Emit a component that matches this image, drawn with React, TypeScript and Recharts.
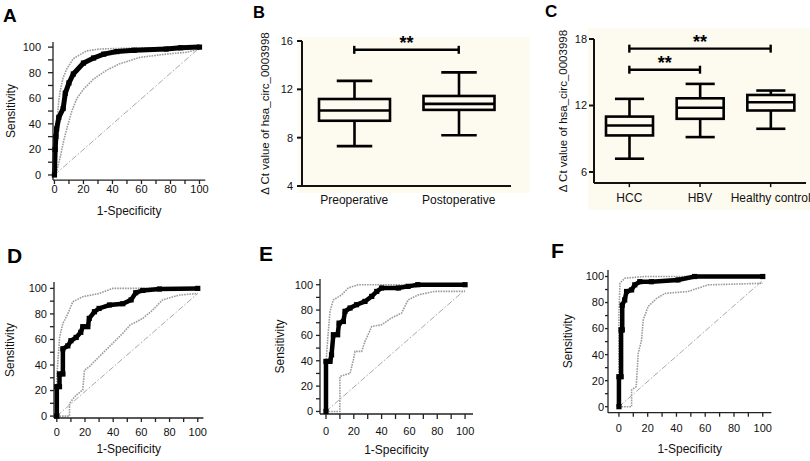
import React from "react"
import { LineChart, Line, XAxis, YAxis, ComposedChart, Bar, ReferenceLine } from "recharts"

type Pt = { x: number; y: number }
type Sig = { from: string; to: string; y: number }

const ROC_TICKS = [0, 10, 20, 30, 40, 50, 60, 70, 80, 90, 100]

// A: ROC, all samples
const A_MAIN: Pt[] = [
  { x: 0, y: 0 }, { x: 0.5, y: 20 }, { x: 1, y: 30 }, { x: 1.5, y: 36 }, { x: 3, y: 45 },
  { x: 6, y: 52 }, { x: 7.5, y: 64 }, { x: 10, y: 72 }, { x: 13, y: 79 }, { x: 20, y: 87.5 },
  { x: 27, y: 91.5 }, { x: 34, y: 94.5 }, { x: 43, y: 96.5 }, { x: 55, y: 97.5 }, { x: 77, y: 98.5 },
  { x: 87, y: 99.5 }, { x: 100, y: 100 },
]
const A_UPPER: Pt[] = [
  { x: 0, y: 0 }, { x: 0.5, y: 20 }, { x: 1.2, y: 35 }, { x: 2, y: 45 }, { x: 3, y: 58 },
  { x: 4, y: 66 }, { x: 6, y: 76 }, { x: 8.5, y: 83 }, { x: 13, y: 91 }, { x: 22, y: 97 },
  { x: 31, y: 98.5 }, { x: 55, y: 99.3 }, { x: 100, y: 100 },
]
const A_LOWER: Pt[] = [
  { x: 0, y: 0 }, { x: 1.6, y: 3 }, { x: 4, y: 14 }, { x: 6.4, y: 27 }, { x: 8.7, y: 37 },
  { x: 12, y: 50 }, { x: 15.5, y: 60 }, { x: 20, y: 67 }, { x: 27, y: 75 }, { x: 36, y: 82 },
  { x: 45, y: 87 }, { x: 59, y: 92 }, { x: 77, y: 94.5 }, { x: 91, y: 96 }, { x: 100, y: 98.5 },
]
const A_DIAG: Pt[] = [{ x: 0, y: 0 }, { x: 98, y: 97.5 }]

// D
const D_MAIN: Pt[] = [
  { x: 0, y: 0 }, { x: 0, y: 23 }, { x: 1.9, y: 23 }, { x: 1.9, y: 33 }, { x: 4.3, y: 33 },
  { x: 4.3, y: 52.7 }, { x: 7.8, y: 55 }, { x: 10, y: 59 }, { x: 13.7, y: 61.6 }, { x: 17, y: 65.6 },
  { x: 18.4, y: 70 }, { x: 22, y: 70 }, { x: 23, y: 76.5 }, { x: 26.7, y: 81.7 }, { x: 30, y: 84.3 },
  { x: 37.4, y: 87 }, { x: 46.8, y: 88 }, { x: 52.7, y: 91 }, { x: 56, y: 96.6 }, { x: 61, y: 98.4 },
  { x: 72.8, y: 99.5 }, { x: 100, y: 100 },
]
const D_UPPER: Pt[] = [
  { x: 0, y: 0 }, { x: 0, y: 31 }, { x: 2, y: 62 }, { x: 4.3, y: 72.6 }, { x: 7.8, y: 80 },
  { x: 11.3, y: 89.5 }, { x: 18.4, y: 93.5 }, { x: 30, y: 96 }, { x: 39.7, y: 100 }, { x: 100, y: 100 },
]
const D_LOWER: Pt[] = [
  { x: 0, y: 0 }, { x: 9, y: 0 }, { x: 9, y: 10 }, { x: 13.7, y: 16.4 }, { x: 18.4, y: 20.4 },
  { x: 19.6, y: 36 }, { x: 23, y: 38.6 }, { x: 30, y: 46.5 }, { x: 39.7, y: 57 }, { x: 46.8, y: 64.8 },
  { x: 52, y: 71.3 }, { x: 61, y: 76.5 }, { x: 68, y: 83 }, { x: 75, y: 91 }, { x: 87, y: 94.8 },
  { x: 100, y: 96 },
]
const D_DIAG: Pt[] = [{ x: 0, y: 0 }, { x: 100, y: 96 }]

// E
const E_MAIN: Pt[] = [
  { x: 0, y: 0 }, { x: 0, y: 39.5 }, { x: 2.9, y: 39.5 }, { x: 4, y: 44.7 }, { x: 5.3, y: 60.5 },
  { x: 8.4, y: 60.5 }, { x: 9.4, y: 69.7 }, { x: 12.5, y: 71 }, { x: 13.7, y: 79 }, { x: 17.3, y: 81.6 },
  { x: 22, y: 84.2 }, { x: 28, y: 86.8 }, { x: 32.9, y: 90.8 }, { x: 36.5, y: 94.7 }, { x: 40, y: 97.4 },
  { x: 52, y: 97.4 }, { x: 59, y: 98.7 }, { x: 66, y: 100 }, { x: 100, y: 100 },
]
const E_UPPER: Pt[] = [
  { x: 0, y: 0 }, { x: 0, y: 38 }, { x: 1.2, y: 56.6 }, { x: 2.9, y: 79 }, { x: 5.3, y: 88 },
  { x: 11.3, y: 92 }, { x: 16, y: 97.4 }, { x: 23, y: 100 }, { x: 100, y: 100 },
]
const E_LOWER: Pt[] = [
  { x: 0, y: 0 }, { x: 10, y: 0 }, { x: 10, y: 27.6 }, { x: 13.7, y: 29 }, { x: 17.3, y: 30 },
  { x: 19.7, y: 40.8 }, { x: 20.9, y: 47.4 }, { x: 25.7, y: 47.4 }, { x: 28, y: 55 }, { x: 32.9, y: 67 },
  { x: 40, y: 68.4 }, { x: 47, y: 73.7 }, { x: 54.4, y: 77.6 }, { x: 59, y: 88 }, { x: 66.4, y: 92 },
  { x: 78, y: 94.7 }, { x: 100, y: 94.7 },
]
const E_DIAG: Pt[] = [{ x: 0, y: 0 }, { x: 100, y: 96 }]

// F
const F_MAIN: Pt[] = [
  { x: 0, y: 0 }, { x: 0, y: 23 }, { x: 1.5, y: 23 }, { x: 1.5, y: 59 }, { x: 2.3, y: 59 },
  { x: 2.3, y: 78 }, { x: 4, y: 82 }, { x: 5.3, y: 88.5 }, { x: 8.8, y: 89.7 }, { x: 11, y: 93.6 },
  { x: 14.5, y: 96 }, { x: 22.6, y: 96 }, { x: 41, y: 97.4 }, { x: 52.6, y: 100 }, { x: 100, y: 100 },
]
const F_UPPER: Pt[] = [
  { x: 0, y: 0 }, { x: 0, y: 70 }, { x: 0.7, y: 94.8 }, { x: 4, y: 98.7 }, { x: 18, y: 100 }, { x: 100, y: 100 },
]
const F_LOWER: Pt[] = [
  { x: 0, y: 0 }, { x: 8.8, y: 0 }, { x: 8.8, y: 12.8 }, { x: 12, y: 15.4 }, { x: 13.4, y: 41 },
  { x: 15.7, y: 51 }, { x: 16.9, y: 66.7 }, { x: 20.3, y: 77 }, { x: 26, y: 83 }, { x: 32, y: 87 },
  { x: 48, y: 88.5 }, { x: 62, y: 93.6 }, { x: 100, y: 94.8 },
]
const F_DIAG: Pt[] = [{ x: 0, y: 0 }, { x: 100, y: 97 }]

// B: box plots
const B_CATEGORIES = ["Preoperative", "Postoperative"]
const B_MIN = [7.3, 8.2]
const B_Q1 = [9.4, 10.3]
const B_MED = [10.25, 10.8]
const B_Q3 = [11.2, 11.45]
const B_MAX = [12.7, 13.4]
const B_TICKS = [4, 8, 12, 16]
const B_SIG: Sig[] = [{ from: "Preoperative", to: "Postoperative", y: 15.27 }]

// C: box plots
const C_CATEGORIES = ["HCC", "HBV", "Healthy control"]
const C_MIN = [7.2, 9.15, 9.9]
const C_Q1 = [9.3, 10.8, 11.55]
const C_MED = [10.2, 11.8, 12.3]
const C_Q3 = [11.0, 12.65, 12.95]
const C_MAX = [12.6, 13.95, 13.35]
const C_TICKS = [6, 12, 18]
const C_SIG: Sig[] = [
  { from: "HCC", to: "Healthy control", y: 17.13 },
  { from: "HCC", to: "HBV", y: 15.23 },
]

const Y_TITLE = "Δ Ct value of hsa_circ_0003998"
const FONT = "'Liberation Sans', Arial, sans-serif"

const squareDot = (p: any) => (
  <rect key={`sq-${p.index}`} x={p.cx - 2.6} y={p.cy - 2.6} width={5.2} height={5.2} fill="#000" />
)

type RocProps = {
  left: number; top: number; plotW: number; plotH: number
  xDomain: [number, number]; yDomain: [number, number]
  main: Pt[]; upper: Pt[]; lower: Pt[]; diag: Pt[]
  yTick: [number, number]; xTick: [number, number]
  yLabelX: number; xLabelBase: number; mainWidth: number
}

const YW = 50
const MT = 6
const MR = 8
const XH = 48

function RocPanel(p: RocProps) {
  const w = YW + p.plotW + MR
  const h = MT + p.plotH + XH
  const cl = p.left - YW
  const ct = p.top - MT
  const xOffset = p.plotH + XH - (p.xLabelBase - p.top)
  return (
    <div style={{ position: "absolute", left: cl, top: ct }}>
      <LineChart width={w} height={h} margin={{ top: MT, right: MR, left: 0, bottom: 0 }}>
        <XAxis
          type="number"
          dataKey="x"
          domain={p.xDomain}
          ticks={ROC_TICKS}
          interval={0}
          height={XH}
          tickSize={p.xTick[0]}
          tickMargin={p.xTick[1]}
          tickFormatter={(v: number) => (v % 20 === 0 ? String(v) : "")}
          tick={{ fontSize: 11, fill: "#111" }}
          stroke="#222"
          strokeWidth={1.3}
          label={{ value: "1-Specificity", position: "insideBottom", offset: xOffset, fontSize: 12, fill: "#111" }}
        />
        <YAxis
          type="number"
          dataKey="y"
          domain={p.yDomain}
          ticks={ROC_TICKS}
          interval={0}
          width={YW}
          tickSize={p.yTick[0]}
          tickMargin={p.yTick[1]}
          tickFormatter={(v: number) => (v % 20 === 0 ? String(v) : "")}
          tick={{ fontSize: 11, fill: "#111" }}
          stroke="#222"
          strokeWidth={1.3}
          label={{
            value: "Sensitivity",
            angle: -90,
            position: "insideLeft",
            offset: p.yLabelX - cl,
            fontSize: 12,
            fill: "#111",
            style: { textAnchor: "middle" },
          }}
        />
        <Line data={p.diag} dataKey="y" type="linear" stroke="#a8a8a8" strokeWidth={1} strokeDasharray="6 2 1.5 2" dot={false} isAnimationActive={false} />
        <Line data={p.upper} dataKey="y" type="linear" stroke="#9c9c9c" strokeWidth={1.6} strokeDasharray="1.6 1" dot={false} isAnimationActive={false} />
        <Line data={p.lower} dataKey="y" type="linear" stroke="#9c9c9c" strokeWidth={1.6} strokeDasharray="1.6 1" dot={false} isAnimationActive={false} />
        <Line data={p.main} dataKey="y" type="linear" stroke="#000" strokeWidth={p.mainWidth} dot={squareDot} isAnimationActive={false} />
      </LineChart>
    </div>
  )
}

const boxShape = (capRatio: number) => (props: any) => {
  const { x, y, width, height, payload } = props
  const top = Math.min(y, y + height)
  const hgt = Math.abs(height)
  const { min, q1, median, q3, max } = payload
  const py = (v: number) => top + ((max - v) / (max - min)) * hgt
  const cx = x + width / 2
  const cap = (width * capRatio) / 2
  return (
    <g stroke="#000" strokeWidth={2.6} fill="none">
      <line x1={cx} x2={cx} y1={py(max)} y2={py(q3)} />
      <line x1={cx} x2={cx} y1={py(q1)} y2={py(min)} />
      <line x1={cx - cap} x2={cx + cap} y1={py(max)} y2={py(max)} />
      <line x1={cx - cap} x2={cx + cap} y1={py(min)} y2={py(min)} />
      <rect x={x} y={py(q3)} width={width} height={py(q1) - py(q3)} />
      <line x1={x} x2={x + width} y1={py(median)} y2={py(median)} />
    </g>
  )
}

type BoxProps = {
  left: number; top: number; plotW: number; plotH: number; yw: number; mt: number
  data: any[]; ticks: number[]; domain: [number, number]; sig: Sig[]
  barSize: number; capRatio: number; capH: number
  xTickLine: boolean; xTick: [number, number]; yTick: [number, number]; yLabelX: number
}

function BoxPanel(p: BoxProps) {
  const w = p.yw + p.plotW + 4
  const h = p.mt + p.plotH + 30
  const cl = p.left - p.yw
  return (
    <div style={{ position: "absolute", left: cl, top: p.top - p.mt }}>
      <ComposedChart width={w} height={h} data={p.data} margin={{ top: p.mt, right: 4, left: 0, bottom: 0 }}>
        <XAxis
          dataKey="name"
          type="category"
          height={30}
          interval={0}
          tickSize={p.xTick[0]}
          tickMargin={p.xTick[1]}
          tickLine={p.xTickLine ? { stroke: "#111", strokeWidth: 1.5 } : false}
          tick={{ fontSize: 12, fill: "#111" }}
          stroke="#111"
          strokeWidth={2}
        />
        <YAxis
          type="number"
          domain={p.domain}
          ticks={p.ticks}
          interval={0}
          width={p.yw}
          tickSize={p.yTick[0]}
          tickMargin={p.yTick[1]}
          tick={{ fontSize: 11, fill: "#111" }}
          stroke="#111"
          strokeWidth={2}
          label={{
            value: Y_TITLE,
            angle: -90,
            position: "insideLeft",
            offset: p.yLabelX - cl,
            fontSize: 11.5,
            fill: "#111",
            style: { textAnchor: "middle" },
          }}
        />
        <Bar
          dataKey={(d: any) => [d.min, d.max]}
          barSize={p.barSize}
          shape={boxShape(p.capRatio)}
          isAnimationActive={false}
        />
        {p.sig.map((s, i) => (
          <ReferenceLine
            key={`s${i}`}
            segment={[{ x: s.from, y: s.y }, { x: s.to, y: s.y }]}
            stroke="#000"
            strokeWidth={2.4}
            ifOverflow="visible"
            label={{ value: "**", position: "top", offset: 1, fontSize: 18, fontWeight: "bold", fill: "#000" }}
          />
        ))}
        {p.sig.map((s, i) => (
          <ReferenceLine key={`a${i}`} segment={[{ x: s.from, y: s.y - p.capH }, { x: s.from, y: s.y + p.capH }]} stroke="#000" strokeWidth={2.4} ifOverflow="visible" />
        ))}
        {p.sig.map((s, i) => (
          <ReferenceLine key={`b${i}`} segment={[{ x: s.to, y: s.y - p.capH }, { x: s.to, y: s.y + p.capH }]} stroke="#000" strokeWidth={2.4} ifOverflow="visible" />
        ))}
      </ComposedChart>
    </div>
  )
}

const B_DATA = B_CATEGORIES.map((name, i) => ({
  name, min: B_MIN[i], q1: B_Q1[i], median: B_MED[i], q3: B_Q3[i], max: B_MAX[i],
}))
const C_DATA = C_CATEGORIES.map((name, i) => ({
  name, min: C_MIN[i], q1: C_Q1[i], median: C_MED[i], q3: C_Q3[i], max: C_MAX[i],
}))

export default function App() {
  return (
    <div style={{ position: "absolute", left: 0, top: 0, width: 810, height: 461, background: "#fff", fontFamily: FONT, overflow: "hidden" }}>
      <svg width={810} height={461} style={{ position: "absolute", left: 0, top: 0 }}>
        <rect x={298} y={37} width={232} height={156} fill="#fdfaef" />
        <rect x={588} y={28} width={222} height={182} fill="#fdfaef" />
        <g fontWeight="bold" fill="#000" fontFamily={FONT}>
          <text x={3} y={22} fontSize={19}>A</text>
          <text x={253} y={18} fontSize={16.5}>B</text>
          <text x={545} y={17} fontSize={17}>C</text>
          <text x={7} y={263} fontSize={21}>D</text>
          <text x={259} y={261} fontSize={21}>E</text>
          <text x={551} y={258} fontSize={21}>F</text>
        </g>
      </svg>

      <RocPanel left={52.5} top={42} plotW={152.3} plotH={138.1} xDomain={[-1, 104]} yDomain={[-4, 104]}
        main={A_MAIN} upper={A_UPPER} lower={A_LOWER} diag={A_DIAG}
        yTick={[5, 7]} xTick={[4, 1]} yLabelX={10} xLabelBase={215} mainWidth={5} />

      <BoxPanel left={302} top={41} plotW={209} plotH={145} yw={52} mt={11}
        data={B_DATA} ticks={B_TICKS} domain={[4, 16]} sig={B_SIG}
        barSize={71} capRatio={0.5} capH={0.33} xTickLine={false} xTick={[4, 5]} yTick={[5, 4]} yLabelX={265} />

      <BoxPanel left={594} top={39.3} plotW={212} plotH={144.1} yw={50} mt={11}
        data={C_DATA} ticks={C_TICKS} domain={[5, 18]} sig={C_SIG}
        barSize={47} capRatio={0.62} capH={0.36} xTickLine={true} xTick={[4, 6]} yTick={[5, 2]} yLabelX={563} />

      <RocPanel left={54.2} top={281.9} plotW={149.4} plotH={136} xDomain={[-2, 104]} yDomain={[-1.5, 105]}
        main={D_MAIN} upper={D_UPPER} lower={D_LOWER} diag={D_DIAG}
        yTick={[4, 3]} xTick={[4, 6]} yLabelX={10} xLabelBase={453} mainWidth={4.5} />

      <RocPanel left={320} top={279.3} plotW={153} plotH={135} xDomain={[-4.3, 105.7]} yDomain={[-2, 104.5]}
        main={E_MAIN} upper={E_UPPER} lower={E_LOWER} diag={E_DIAG}
        yTick={[4, 3]} xTick={[5, 8]} yLabelX={280} xLabelBase={454} mainWidth={4.5} />

      <RocPanel left={608.3} top={270} plotW={163.4} plotH={142.7} xDomain={[-7.6, 106]} yDomain={[-4.6, 105]}
        main={F_MAIN} upper={F_UPPER} lower={F_LOWER} diag={F_DIAG}
        yTick={[3, 1]} xTick={[4, 7.6]} yLabelX={567.7} xLabelBase={453} mainWidth={4.5} />
    </div>
  )
}
